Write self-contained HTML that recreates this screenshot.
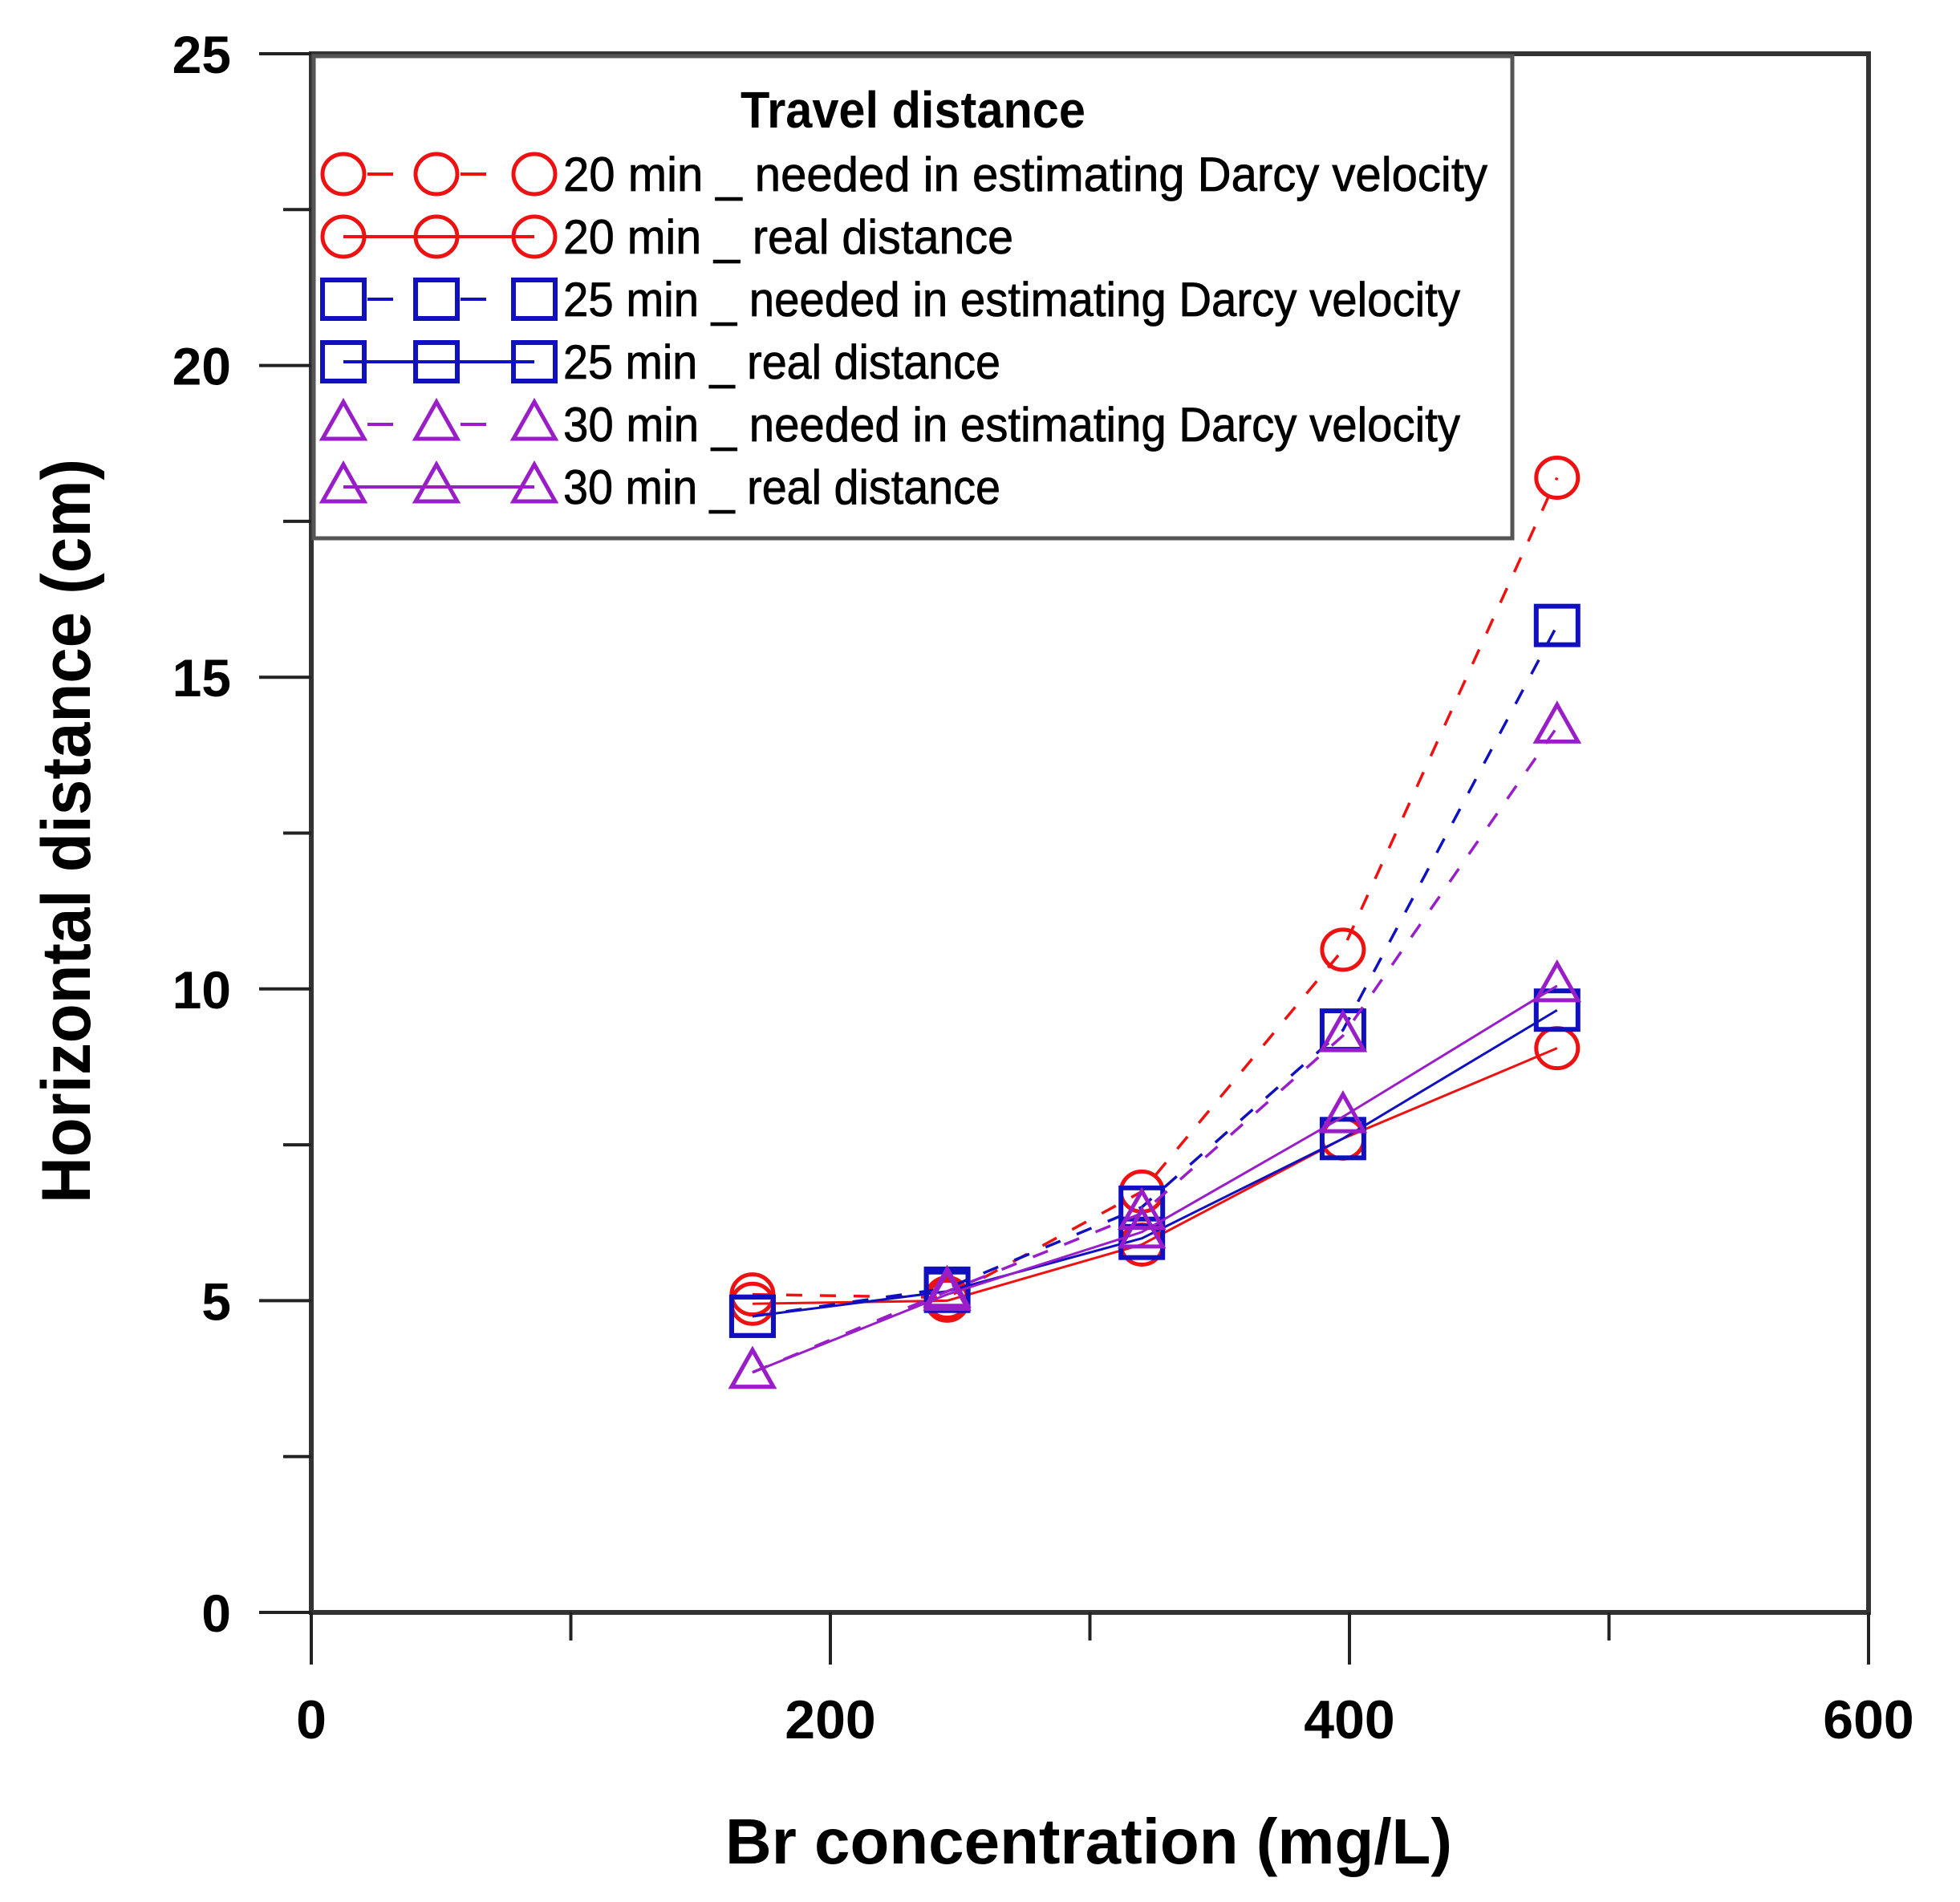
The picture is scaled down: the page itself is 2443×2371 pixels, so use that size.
<!DOCTYPE html>
<html><head><meta charset="utf-8"><style>
html,body{margin:0;padding:0;background:#fff;}
svg{display:block;}
text{font-family:"Liberation Sans",sans-serif;}
</style></head><body>
<svg id="chart" width="2443" height="2371" viewBox="0 0 2443 2371" xmlns="http://www.w3.org/2000/svg">
<rect width="2443" height="2371" fill="#fff"/>
<g id="marks"></g>
<g id="axes"></g>
<g id="legend"></g>
</svg>
<script>
const xCats = [170, 245, 320, 397.5, 480];
const s20need = [5.1, 5.05, 6.75, 10.63, 18.2];
const s20real = [4.95, 5.0, 5.9, 7.6, 9.05];
const s25need = [4.75, 5.2, 6.5, 9.34, 15.83];
const s25real = [4.75, 5.15, 6.0, 7.6, 9.66];
const s30need = [3.85, 5.15, 6.4, 9.25, 14.2];
const s30real = [3.85, 5.1, 6.1, 7.95, 10.05];
const xTicks = [0, 200, 400, 600];
const xMinor = [100, 300, 500];
const yTicks = [0, 5, 10, 15, 20, 25];
const yMinor = [2.5, 7.5, 12.5, 17.5, 22.5];
const seriesNames = ["20 min _ needed in estimating Darcy velocity","20 min _ real distance","25 min _ needed in estimating Darcy velocity","25 min _ real distance","30 min _ needed in estimating Darcy velocity","30 min _ real distance"];

const NS = "http://www.w3.org/2000/svg";
const L = 388, R = 2329, T = 67, B = 2010;
const xs = v => L + (v - 0) / 600 * (R - L);
const ys = v => B - v / 25 * (B - T);
function mk(tag, attrs, parent) {
  const e = document.createElementNS(NS, tag);
  for (const k in attrs) e.setAttribute(k, attrs[k]);
  parent.appendChild(e); return e;
}
const RED = "#ee1111", BLUE = "#1010c0", PURP = "#9a1ec8";
const series = [
  {v: s20need, c: RED, m: "circle", dash: true, n: "series-20min-needed"},
  {v: s20real, c: RED, m: "circle", dash: false, n: "series-20min-real"},
  {v: s25need, c: BLUE, m: "square", dash: true, n: "series-25min-needed"},
  {v: s25real, c: BLUE, m: "square", dash: false, n: "series-25min-real"},
  {v: s30need, c: PURP, m: "triangle", dash: true, n: "series-30min-needed"},
  {v: s30real, c: PURP, m: "triangle", dash: false, n: "series-30min-real"}
];
function marker(type, cx, cy, color, parent) {
  let e;
  if (type === "circle") e = mk("ellipse", {cx, cy, rx: 26, ry: 25, fill: "none", stroke: color, "stroke-width": 5}, parent);
  else if (type === "square") e = mk("rect", {x: cx - 26, y: cy - 24, width: 52, height: 48, fill: "none", stroke: color, "stroke-width": 6}, parent);
  else e = mk("polygon", {points: `${cx},${cy - 28} ${cx - 26},${cy + 18} ${cx + 26},${cy + 18}`, fill: "none", stroke: color, "stroke-width": 5}, parent);
  return e;
}
const marks = document.getElementById("marks");
series.forEach(s => {
  const g = mk("g", {}, marks);
  
  
  const pts = s.v.map((v, i) => xs(xCats[i]) + "," + ys(v)).join(" ");
  const pl = mk("polyline", {points: pts, fill: "none", stroke: s.c, "stroke-width": s.dash ? 3.5 : 3, "stroke-dasharray": s.dash ? "20 22" : "none"}, g);
  
  
  s.v.forEach((v, i) => {
    const m = marker(s.m, xs(xCats[i]), ys(v), s.c, g);
    
    
  });
});
const axes = document.getElementById("axes");
// frame
const fr = mk("rect", {x: L, y: T, width: R - L, height: B - T, fill: "none", stroke: "#333", "stroke-width": 6}, axes);


xTicks.forEach(t => {
  const l = mk("line", {x1: xs(t), x2: xs(t), y1: B, y2: B + 65, stroke: "#222", "stroke-width": 4}, axes);
  
  
  const tx = mk("text", {x: xs(t), y: 2167, "text-anchor": "middle", "font-size": 68, "font-weight": "bold", fill: "#000"}, axes);
  tx.textContent = t;
  
  
});
xMinor.forEach(t => {
  const l = mk("line", {x1: xs(t), x2: xs(t), y1: B, y2: B + 35, stroke: "#222", "stroke-width": 4}, axes);
  
  
});
yTicks.forEach(t => {
  const l = mk("line", {x1: 323, x2: L, y1: ys(t), y2: ys(t), stroke: "#222", "stroke-width": 4}, axes);
  
  
  const tx = mk("text", {x: 288, y: ys(t) + 24, "text-anchor": "end", "font-size": 66, "font-weight": "bold", fill: "#000"}, axes);
  tx.textContent = t;
  
  
});
yMinor.forEach(t => {
  const l = mk("line", {x1: 353, x2: L, y1: ys(t), y2: ys(t), stroke: "#222", "stroke-width": 4}, axes);
  
  
});
const xt = mk("text", {x: 904, y: 2323, "font-size": 80, "font-weight": "bold", textLength: 906, lengthAdjust: "spacingAndGlyphs", fill: "#000"}, axes);
xt.textContent = "Br concentration (mg/L)";


const yt = mk("text", {x: 0, y: 0, "font-size": 86, "font-weight": "bold", textLength: 928, lengthAdjust: "spacingAndGlyphs", transform: "translate(112,1500) rotate(-90)", fill: "#000"}, axes);
yt.textContent = "Horizontal distance (cm)";



// legend
const lg = document.getElementById("legend");
const box = mk("rect", {x: 391, y: 70, width: 1494, height: 601, fill: "#fff", stroke: "#555", "stroke-width": 5}, lg);


const ttl = mk("text", {x: 923, y: 159, "font-size": 64, "font-weight": "bold", textLength: 430, lengthAdjust: "spacingAndGlyphs", fill: "#000"}, lg);
ttl.textContent = "Travel distance";


const rowY = [217, 295, 373, 451, 529, 607];
const rowW = [1152, 561, 1118, 545, 1118, 545];
const mx = [428, 544, 666];
series.forEach((s, i) => {
  const g = mk("g", {}, lg);
  
  
  const y = rowY[i];
  mk("line", {x1: mx[0], x2: mx[2], y1: y, y2: y, stroke: s.c, "stroke-width": 4, "stroke-dasharray": s.dash ? "0 30 32 84 32 200" : "none"}, g);
  mx.forEach(x => marker(s.m, x, y, s.c, g));
  const t = mk("text", {x: 702, y: y + 21, "font-size": 60, textLength: rowW[i], lengthAdjust: "spacingAndGlyphs", fill: "#000", stroke: "#000", "stroke-width": 0.8}, g);
  t.textContent = seriesNames[i];
  
  
});
</script>
</body></html>
